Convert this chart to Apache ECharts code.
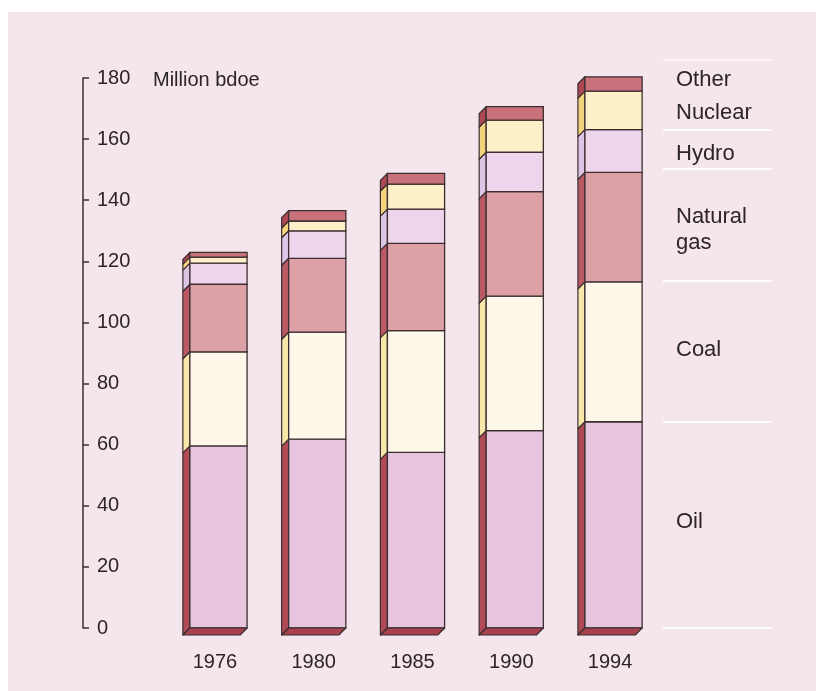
<!DOCTYPE html>
<html>
<head>
<meta charset="utf-8">
<script src="https://cdn.jsdelivr.net/npm/echarts@6/dist/echarts.min.js"></script>
<style>
html,body{margin:0;padding:0;background:#ffffff;}
#chart{width:824px;height:691px;}
</style>
</head>
<body>
<div id="chart"></div>
<script>
// ---- data (Million bdoe) ----
var categories = ['1976', '1980', '1985', '1990', '1994'];
var oil     = [59.6, 61.8, 57.5, 64.6, 67.5];
var coal    = [30.8, 35.0, 39.8, 44.0, 45.8];
var gas     = [22.1, 24.2, 28.6, 34.2, 35.8];
var hydro   = [6.9, 9.0, 11.2, 12.9, 14.0];
var nuclear = [2.0, 3.2, 8.2, 10.5, 12.6];
var other   = [1.5, 3.4, 3.5, 4.4, 4.7];
var yTicks  = [0, 20, 40, 60, 80, 100, 120, 140, 160, 180];
var legendLabels = ['Other', 'Nuclear', 'Hydro', 'Natural\ngas', 'Coal', 'Oil'];
var unitLabel = 'Million bdoe';

var layers = [
  {name: 'Oil',         data: oil,     front: '#e7c5df', side: '#b04a56'},
  {name: 'Coal',        data: coal,    front: '#fdf8e9', side: '#f7e7a8'},
  {name: 'Natural gas', data: gas,     front: '#dca0a6', side: '#ba5a65'},
  {name: 'Hydro',       data: hydro,   front: '#eed5ec', side: '#ddc5e5'},
  {name: 'Nuclear',     data: nuclear, front: '#fdf0c9', side: '#f2d47e'},
  {name: 'Other',       data: other,   front: '#c9727b', side: '#ad4854'}
];

var DEPTH = 7;
var OUT = '#3b2e30';

function makeSeries(layer, li) {
  var rows = categories.map(function (c, i) {
    var base = 0;
    for (var k = 0; k < li; k++) base += layers[k].data[i];
    return [i, base, base + layer.data[i]];
  });
  return {
    type: 'custom',
    name: layer.name,
    data: rows,
    encode: {x: 0, y: [1, 2]},
    renderItem: function (params, api) {
      var idx = api.value(0);
      var pTop = api.coord([idx, api.value(2)]);
      var pBase = api.coord([idx, api.value(1)]);
      var band = api.size([1, 0])[0];
      var total = band * 0.65;
      var fl = pTop[0] - total / 2 + DEPTH;
      var fr = pTop[0] + total / 2;
      var top = pTop[1], base = pBase[1];
      var children = [
        {type: 'polygon', shape: {points: [[fl, top], [fl - DEPTH, top + DEPTH], [fl - DEPTH, base + DEPTH], [fl, base]]},
         style: {fill: layer.side, stroke: OUT, lineWidth: 1.2, lineJoin: 'round'}},
        {type: 'rect', shape: {x: fl, y: top, width: fr - fl, height: base - top},
         style: {fill: layer.front, stroke: OUT, lineWidth: 1.3}}
      ];
      if (li === 0) {
        children.push({type: 'polygon', shape: {points: [[fl, base], [fr, base], [fr - DEPTH, base + DEPTH], [fl - DEPTH, base + DEPTH]]},
          style: {fill: '#a8414d', stroke: OUT, lineWidth: 1.2, lineJoin: 'round'}});
      }
      return {type: 'group', children: children};
    }
  };
}

var series = layers.map(makeSeries);

var textColor = '#2b2526';
var graphics = [
  {type: 'rect', z: -100, silent: true, shape: {x: 8, y: 12, width: 808, height: 690}, style: {fill: '#f4e6ec'}},
  {type: 'text', left: 153, top: 70, style: {text: unitLabel, fill: textColor, font: '20px "Liberation Sans", Arial, sans-serif'}}
];
var sepY = [60, 130, 169, 281, 422, 628];
sepY.forEach(function (y, i) {
  graphics.push({type: 'line', silent: true, shape: {x1: 663, y1: y, x2: 772, y2: y},
    style: {stroke: '#ffffff', lineWidth: 2, opacity: i === 0 ? 0.6 : 0.9}});
});
var legendY = [67, 100, 141, 204, 337, 509];
legendLabels.forEach(function (t, i) {
  graphics.push({type: 'text', left: 676, top: legendY[i],
    style: {text: t, fill: textColor, font: '22px "Liberation Sans", Arial, sans-serif', lineHeight: 26}});
});

var chart = echarts.init(document.getElementById('chart'), null, {renderer: 'canvas'});
chart.setOption({
  backgroundColor: '#ffffff',
  animation: false,
  grid: {left: 165.6, right: 164.6, top: 78, bottom: 63},
  xAxis: {
    type: 'category',
    data: categories,
    boundaryGap: true,
    axisLine: {show: false},
    axisTick: {show: false},
    axisLabel: {color: textColor, fontSize: 20, fontFamily: '"Liberation Sans", Arial, sans-serif', margin: 24}
  },
  yAxis: {
    type: 'value',
    min: 0, max: 180, interval: 20,
    offset: 82.6,
    splitLine: {show: false},
    axisLine: {show: true, lineStyle: {color: OUT, width: 1.5}},
    axisTick: {show: true, inside: true, length: 6, lineStyle: {color: OUT, width: 1.5}},
    axisLabel: {
      inside: true, margin: 14, color: textColor, fontSize: 20,
      fontFamily: '"Liberation Sans", Arial, sans-serif',
      formatter: function (v) { return yTicks.indexOf(v) >= 0 ? String(v) : ''; }
    }
  },
  graphic: graphics,
  series: series
});
</script>
</body>
</html>
